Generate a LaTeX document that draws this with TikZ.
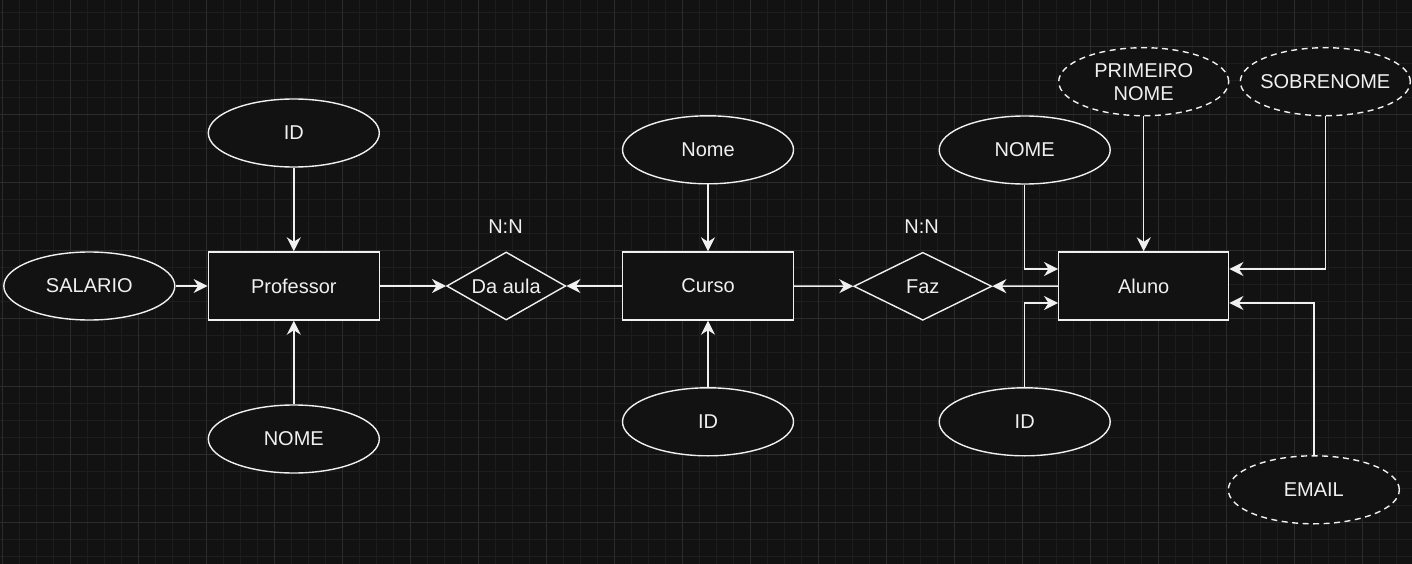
\documentclass[tikz,border=0pt]{standalone}
\usepackage{fontspec}
\setmainfont{Liberation Sans}
\usetikzlibrary{arrows.meta}
\usetikzlibrary{shapes.geometric}

\definecolor{bg}{HTML}{121212}
\definecolor{gridminor}{HTML}{1D1D1D}
\definecolor{gridmajor}{HTML}{2C2C2C}
\definecolor{fg}{HTML}{F0F0F0}

\begin{document}
\begin{tikzpicture}[x=1pt, y=-1pt,
    every node/.style={text=fg, font=\fontsize{20}{23}\selectfont},
    entity/.style={rectangle, draw=fg, fill=bg, line width=1.4pt, inner sep=0pt, minimum width=171pt, minimum height=68pt},
    attr/.style={ellipse, draw=fg, fill=bg, line width=1.4pt, inner sep=0pt, minimum width=171pt, minimum height=68pt},
    derived/.style={attr, dash pattern=on 6pt off 4.5pt},
    rel/.style={diamond, draw=fg, fill=bg, line width=1.4pt, inner sep=0pt, aspect=1.75, minimum height=68pt},
    link/.style={draw=fg, line width=1.4pt, -{Stealth[length=14pt, width=14pt, inset=4.5pt]}}]

      \useasboundingbox (0,0) rectangle (1412,564);
      \fill[bg] (0,0) rectangle (1412,564);
      \begin{scope}
        \clip (0,0) rectangle (1412,564);
        \foreach \i in {0,...,83}
          \draw[gridminor, line width=1pt] ({2.7+17*\i},0) -- ({2.7+17*\i},564);
        \foreach \i in {0,...,34}
          \draw[gridminor, line width=1pt] (0,{-4.3+17*\i}) -- (1412,{-4.3+17*\i});
        \foreach \i in {0,...,20}
          \draw[gridmajor, line width=1pt] ({2.7+68*\i},0) -- ({2.7+68*\i},564);
        \foreach \i in {-1,...,7}
          \draw[gridmajor, line width=1pt] (0,{46.7+68*\i}) -- (1412,{46.7+68*\i});
      \end{scope}

      % Professor
      \node[entity] (prof) at (293.8,286) {Professor};
      \node[attr] (profid) at (293.8,133) {ID};
      \node[attr] (salario) at (89.3,286) {SALARIO};
      \node[attr] (profnome) at (293.8,439) {NOME};

      % Da aula
      \node[rel, minimum width=119pt] (daaula) at (506.2,286) {Da aula};
      \node (card1) at (505.5,226.7) {N:N};

      % Curso
      \node[entity] (curso) at (708,286) {Curso};
      \node[attr] (cursonome) at (708,149.8) {Nome};
      \node[attr] (cursoid) at (708,421.8) {ID};

      % Faz
      \node[rel, minimum width=138pt] (faz) at (922.8,286.3) {Faz};
      \node (card2) at (921.7,226.7) {N:N};

      % Aluno
      \node[entity, minimum width=170pt] (aluno) at (1143.7,286) {Aluno};
      \node[attr] (alunonome) at (1024.7,150) {NOME};
      \node[attr] (alunoid) at (1024.7,421.8) {ID};
      \node[derived, minimum width=170pt, align=center] (primeiro) at (1143.7,81.7) {PRIMEIRO\\NOME};
      \node[derived, minimum width=170pt, inner xsep=-5pt] (sobrenome) at (1325.3,81.7) {SOBRENOME};
      \node[derived] (email) at (1313.8,489.8) {EMAIL};

      \draw[link] (profid) -- (prof);
      \draw[link] (profnome) -- (prof);
      \draw[link] (salario) -- (prof);
      \draw[link] (prof) -- (daaula);
      \draw[link] (curso) -- (daaula);
      \draw[link] (cursonome) -- (curso);
      \draw[link] (cursoid) -- (curso);
      \draw[link] (curso) -- (faz);
      \draw[link] (aluno) -- (faz);
      \draw[link] (primeiro) -- (aluno);
      \draw[link] (alunonome.south) |- ([yshift=17pt]aluno.west);
      \draw[link] (alunoid.north) |- ([yshift=-17pt]aluno.west);
      \draw[link] (sobrenome.south) |- ([yshift=17pt]aluno.east);
      \draw[link] (email.north) |- ([yshift=-17pt]aluno.east);
    \end{tikzpicture}
\end{document}
